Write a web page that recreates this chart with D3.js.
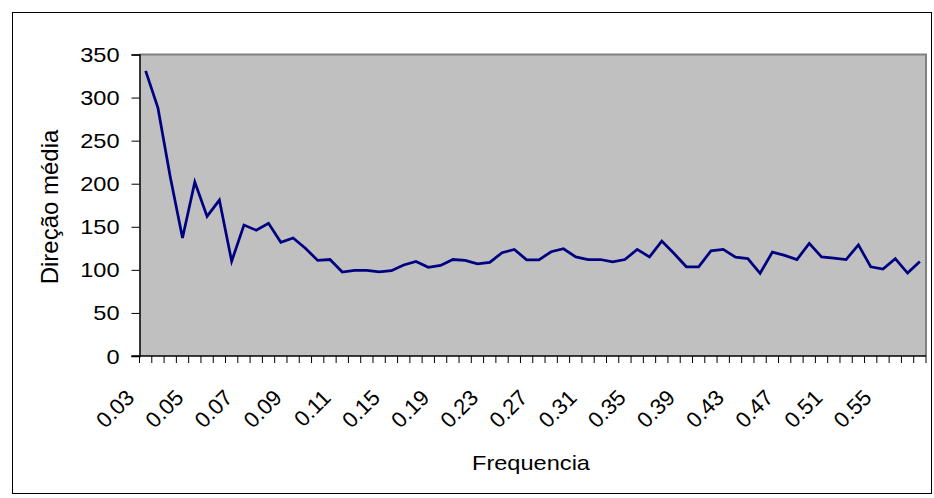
<!DOCTYPE html>
<html>
<head>
<meta charset="utf-8">
<script src="https://cdn.jsdelivr.net/npm/d3@7"></script>
<style>
  html, body { margin: 0; padding: 0; background: #fff; }
  svg { display: block; font-family: "Liberation Sans", Arial, sans-serif; }
</style>
</head>
<body>
<svg id="chart" width="934" height="498"></svg>
<script>
// Frequency categories (uneven step: 0.005 up to 0.11, then 0.01)
const categories = [
  "0.03","0.035","0.04","0.045","0.05","0.055","0.06","0.065","0.07","0.075",
  "0.08","0.085","0.09","0.095","0.1","0.105","0.11","0.12","0.13","0.14",
  "0.15","0.16","0.17","0.18","0.19","0.2","0.21","0.22","0.23","0.24",
  "0.25","0.26","0.27","0.28","0.29","0.3","0.31","0.32","0.33","0.34",
  "0.35","0.36","0.37","0.38","0.39","0.4","0.41","0.42","0.43","0.44",
  "0.45","0.46","0.47","0.48","0.49","0.5","0.51","0.52","0.53","0.54",
  "0.55","0.56","0.57","0.58"
];

// Mean direction for each frequency
const direcaoMedia = [
  331, 288, 208, 137, 202, 162, 181, 110, 152, 146,
  154, 132, 137, 125, 111, 112, 97.5, 99.4, 99.4, 97.8,
  99, 105.6, 109.8, 103, 105.2, 112, 111, 107, 108.7, 119.9,
  123.7, 111.7, 111.7, 121, 124.5, 115, 112, 112, 109.4, 112,
  123.7, 115, 133.4, 119, 103.6, 103.6, 122, 123.7, 114.8, 113,
  96, 120.6, 116.8, 112, 130.7, 115, 113.7, 112, 129, 103.6,
  101, 113, 96.3, 109.8
];

// Labelled categories on the x axis
const xTickLabels = ["0.03","0.05","0.07","0.09","0.11","0.15","0.19","0.23","0.27",
  "0.31","0.35","0.39","0.43","0.47","0.51","0.55"];
const yTickValues = [0, 50, 100, 150, 200, 250, 300, 350];

const svg = d3.select("#chart");
const plot = { left: 139.5, right: 926, top: 54.5, bottom: 356 };
const fontSize = 20;
const stretch = 1.18;

// Outer chart frame
svg.append("rect")
  .attr("x", 12.5).attr("y", 12.5)
  .attr("width", 919).attr("height", 481)
  .attr("fill", "#fff").attr("stroke", "#000").attr("stroke-width", 1);

const x = d3.scaleBand().domain(categories).range([plot.left, plot.right]).padding(0);
const y = d3.scaleLinear().domain([0, 350]).range([plot.bottom, plot.top]);

// Plot area
svg.append("rect")
  .attr("x", plot.left).attr("y", plot.top)
  .attr("width", plot.right - plot.left).attr("height", plot.bottom - plot.top)
  .attr("fill", "#c0c0c0");
svg.append("path")
  .attr("d", `M${plot.left},${plot.top}H${plot.right}V${plot.bottom}`)
  .attr("fill", "none").attr("stroke", "#808080").attr("stroke-width", 2);

// Y axis
const yAxis = svg.append("g")
  .attr("transform", `translate(${plot.left},0)`)
  .call(d3.axisLeft(y).tickValues(yTickValues).tickSize(8).tickPadding(12).tickFormat(d3.format("d")));
yAxis.select(".domain").attr("stroke", "#000").attr("stroke-width", 1.5);
yAxis.selectAll(".tick line").attr("stroke", "#000");
yAxis.selectAll(".tick text")
  .attr("font-size", fontSize).attr("fill", "#000")
  .attr("font-family", "Liberation Sans, Arial, sans-serif")
  .attr("dy", "0.35em")
  .attr("transform", function () {
    const tx = +d3.select(this).attr("x");
    return `translate(${tx},0) scale(${stretch},1) translate(${-tx},0)`;
  });

// X axis: ticks on category boundaries
const bounds = categories.map(c => x(c)).concat([plot.right]);
const xAxis = svg.append("g");
xAxis.selectAll("line.tick")
  .data(bounds)
  .join("line")
  .attr("class", "tick")
  .attr("x1", d => d).attr("x2", d => d)
  .attr("y1", plot.bottom).attr("y2", plot.bottom + 7)
  .attr("stroke", "#000").attr("stroke-width", 1);
xAxis.append("line")
  .attr("x1", plot.left - 8).attr("x2", plot.right)
  .attr("y1", plot.bottom).attr("y2", plot.bottom)
  .attr("stroke", "#000").attr("stroke-width", 1.5);

xAxis.selectAll("text.xl")
  .data(xTickLabels)
  .join("text")
  .attr("class", "xl")
  .attr("font-size", 22)
  .attr("text-anchor", "end")
  .attr("transform", d => {
    const cx = x(d) + x.bandwidth() / 2 - 10;
    return `translate(${cx},${plot.bottom + 43}) rotate(-45)`;
  })
  .text(d => d);

// Series line
const line = d3.line()
  .x((d, i) => x(categories[i]) + x.bandwidth() / 2)
  .y(d => y(d));
svg.append("path")
  .datum(direcaoMedia)
  .attr("d", line)
  .attr("fill", "none")
  .attr("stroke", "#000080")
  .attr("stroke-width", 2.75)
  .attr("stroke-linejoin", "miter");

// Axis titles
svg.append("text")
  .attr("font-size", fontSize)
  .attr("text-anchor", "middle")
  .attr("transform", `translate(531,470) scale(${stretch},1)`)
  .text("Frequencia");

svg.append("text")
  .attr("font-size", 24)
  .attr("text-anchor", "middle")
  .attr("transform", `translate(58,207) rotate(-90)`)
  .text("Direção média");
</script>
</body>
</html>
